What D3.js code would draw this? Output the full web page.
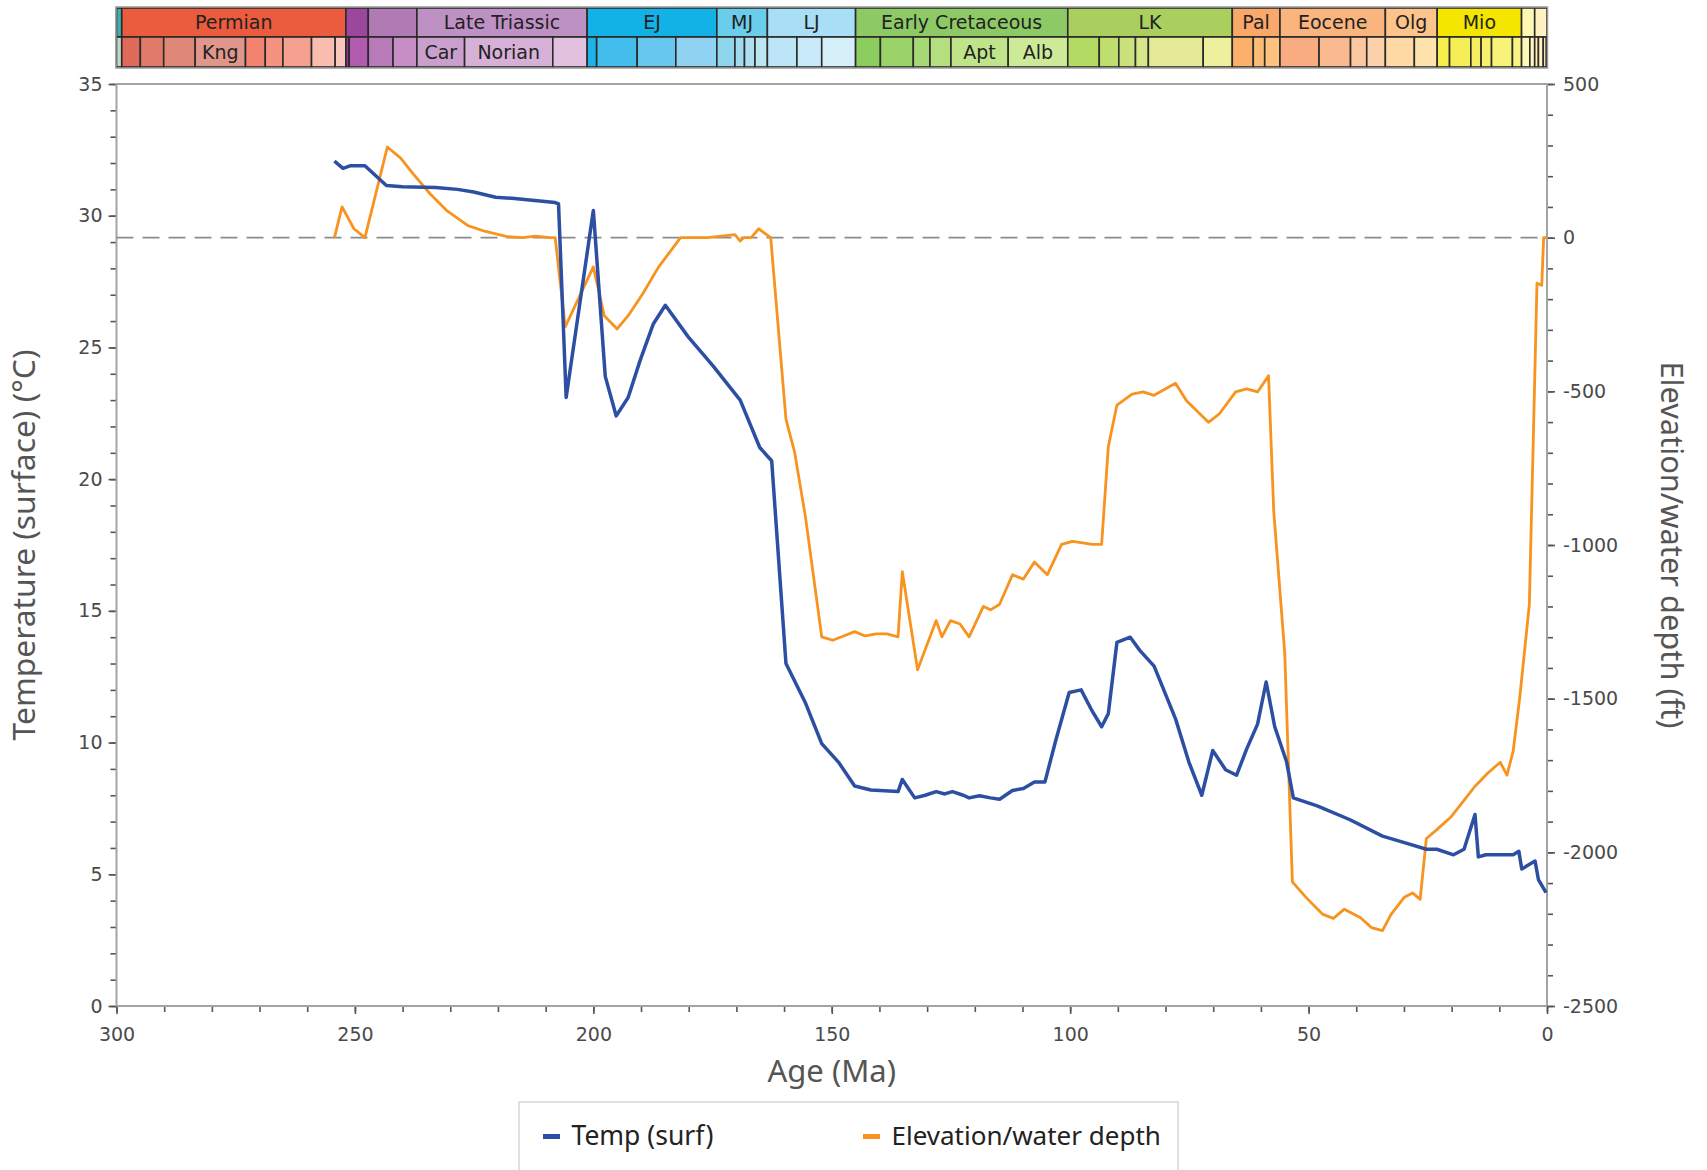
<!DOCTYPE html>
<html>
<head>
<meta charset="utf-8">
<script src="https://cdn.jsdelivr.net/npm/d3@7"></script>
<style>
  html, body { margin: 0; padding: 0; background: #fff; }
  svg { display: block; }
</style>
</head>
<body>
<svg id="chart" width="1707" height="1170"></svg>
<script>
// Surface temperature history (age in Ma, temperature in °C)
const tempAge = [254.3, 252.5, 250.9, 247.9, 243.4, 240, 233.1, 228.5, 225.1, 220.5, 217.1, 208, 207.3,
  205.7, 200, 197.5, 195.2, 192.7, 190.2, 187.4, 184.9, 180.1, 174.9, 169.2, 165.1, 162.6, 159.6,
  155.5, 152.1, 148.6, 145.2, 141.8, 136.1, 135.2, 132.6, 130.4, 128.1, 126.3, 124.7, 122.4, 121.2,
  119, 116.7, 114.8, 112.1, 109.8, 107.5, 105.3, 103, 100.2, 97.7, 95.4, 93.4, 92, 90.2, 87.4, 85.4,
  82.4, 77.9, 75.1, 72.4, 70.1, 67.4, 65.1, 63, 60.7, 58.9, 57.1, 54.6, 53.2, 48.2, 41.3, 34.5, 29.9,
  25.3, 23.1, 19.6, 17.4, 15.1, 14.4, 12.8, 9.4, 7.1, 5.9, 5.3, 4.1, 2.5, 1.8, 0.2];
const tempVal = [32.07, 31.8, 31.9, 31.9, 31.15, 31.1, 31.07, 31.0, 30.9, 30.7, 30.66, 30.5, 30.45,
  23.1, 30.2, 23.9, 22.4, 23.1, 24.5, 25.9, 26.6, 25.4, 24.3, 23.0, 21.2, 20.7, 13.0,
  11.5, 9.96, 9.26, 8.35, 8.2, 8.14, 8.6, 7.9, 8.0, 8.14, 8.05, 8.14, 8.0, 7.9,
  7.98, 7.9, 7.85, 8.18, 8.26, 8.5, 8.5, 10.1, 11.9, 12.0, 11.2, 10.6, 11.1, 13.8, 14.0, 13.5,
  12.9, 10.9, 9.26, 8.0, 9.7, 8.97, 8.76, 9.75, 10.7, 12.3, 10.6, 9.26, 7.9, 7.6, 7.07, 6.45, 6.2,
  5.95, 5.95, 5.74, 5.95, 7.27, 5.66, 5.74, 5.74, 5.74, 5.87, 5.2, 5.33, 5.5, 4.8, 4.3];

// Elevation / water depth history (age in Ma, feet; negative = below sea level)
const elevAge = [254.3, 252.7, 250.2, 247.9, 243.2, 240.4, 237.7, 234.2, 230.8, 226.3, 222.8, 218.3,
  214.8, 212.1, 209.1, 208, 205.9, 200, 197.7, 195, 192.7, 189.7, 186.3, 181.7, 176, 170.3, 169.2,
  168.5, 166.9, 165.3, 162.8, 159.6, 157.8, 155.5, 152.1, 149.8, 147.5, 145.2, 143, 140.7, 138.4,
  136.1, 135.2, 132, 128.1, 126.9, 125.1, 123.1, 121.2, 118.2, 116.7, 114.8, 112.1, 109.8, 107.5,
  104.8, 101.8, 99.5, 97.7, 95.4, 93.4, 92, 90.2, 87, 84.7, 82.4, 77.9, 75.6, 71, 68.7, 65.3, 63,
  60.7, 58.4, 57.3, 55, 53.4, 50.4, 47, 44.8, 42.5, 39.1, 36.8, 34.5, 32.7, 29.9, 28.2, 26.6, 25.3,
  23.1, 20.1, 17.4, 15.1, 12.4, 9.8, 8.4, 7.1, 5.7, 3.7, 2.1, 1.1, 0.7, 0];
const elevVal = [0, 100, 29, 0, 295, 259, 206, 142, 89, 39, 21, 4,
  0, 5, 0, 0, -290, -95, -254, -297, -254, -184, -95, 0, 0, 10, -11,
  0, 0, 29, 0, -591, -697, -910, -1299, -1310, -1296, -1282, -1296, -1289, -1289,
  -1299, -1087, -1406, -1246, -1299, -1246, -1257, -1299, -1200, -1211, -1193, -1097, -1111, -1055,
  -1097, -998, -988, -992, -998, -998, -680, -545, -509, -502, -513, -474, -531, -601, -573, -502, -492,
  -502, -449, -892, -1352, -2096, -2149, -2202, -2215, -2185, -2213, -2245, -2255, -2202, -2146, -2132, -2153, -1955,
  -1926, -1884, -1831, -1785, -1742, -1707, -1749, -1671, -1494, -1193, -148, -155, 0, 0];

// Axis ticks
const ageTicks = [300, 250, 200, 150, 100, 50, 0];
const ageMinorTicks = d3.range(0, 301, 10);
const tempTicks = [0, 5, 10, 15, 20, 25, 30, 35];
const tempMinorTicks = d3.range(0, 36, 1);
const elevTicks = [500, 0, -500, -1000, -1500, -2000, -2500];
const elevMinorTicks = d3.range(-2500, 501, 100);

// Geologic time scale, upper row (periods / epochs), boundaries in Ma
const epochBounds = [300, 298.9, 251.902, 247.2, 237, 201.3, 174.1, 163.5, 145, 100.5, 66, 56, 33.9, 23.03, 5.333, 2.58, 0];
const epochLabels = ["", "Permian", "", "", "Late Triassic", "EJ", "MJ", "LJ", "Early Cretaceous", "LK",
  "Pal", "Eocene", "Olg", "Mio", "", ""];
const epochColors = ["#3DB0B0", "#EB5B3D", "#9B479D", "#B07AB4", "#BE91C5", "#12B1E6", "#6BCDEC", "#A9DFF6",
  "#8DCA66", "#AACF5E", "#F9A869", "#FAB57F", "#FCC38A", "#F5E600", "#FFF8B5", "#FFF1C2"];

// Lower row (stages / ages), boundaries in Ma
const stageBounds = [300, 298.9,
  295, 290.1, 283.5, 272.95, 268.8, 265.1, 259.1, 254.14, 251.902,
  251.2, 247.2, 242, 237, 227, 208.5, 201.3,
  199.3, 190.8, 182.7, 174.1, 170.3, 168.3, 166.1, 163.5, 157.3, 152.1, 145,
  139.8, 132.9, 129.4, 125, 113, 100.5, 93.9, 89.8, 86.3, 83.6, 72.1, 66,
  61.6, 59.2, 56, 47.8, 41.2, 37.8, 33.9, 27.82, 23.03,
  20.44, 15.97, 13.82, 11.63, 7.246, 5.333, 3.6, 2.58,
  1.8, 0.781, 0.126, 0.0117, 0];
const stageLabels = ["",
  "", "", "", "Kng", "", "", "", "", "",
  "", "", "", "", "Car", "Norian", "",
  "", "", "", "", "", "", "", "", "", "", "",
  "", "", "", "", "Apt", "Alb", "", "", "", "", "", "",
  "", "", "", "", "", "", "", "", "",
  "", "", "", "", "", "", "", "",
  "", "", "", "", ""];
const stageColors = ["#BFD9CC",
  "#E06A5A", "#E07A69", "#E08878", "#E0968A", "#F4846F", "#F59280", "#F6A08F", "#F9BCAE", "#FAC8BC",
  "#8A3A86", "#B15AAE", "#B97AB9", "#C78EC6", "#C9A0CD", "#D6B0D6", "#E2C1DF",
  "#1FB2E8", "#42BDEC", "#68C7EF", "#8FD2F1", "#8ED6EC", "#A0DCEF", "#AEE0F0", "#BCE5F2", "#BDE5F8", "#C9EAF8", "#D6F0FA",
  "#8CCD60", "#99D36A", "#A6D975", "#B3DF7F", "#BFE48A", "#CCEA97", "#B3DA62", "#BFDE6E", "#CBE27C", "#D6E688", "#E4EA96", "#EEF09E",
  "#FBB16C", "#FCBC74", "#FCC27E", "#F9AC80", "#FAB98F", "#FCC69E", "#FDD1AC", "#FED9A4", "#FEE3AE",
  "#F6EC4A", "#F6EE56", "#F7EF62", "#F7F06C", "#F8F278", "#F9F384", "#FDF8B8", "#FDF9C4",
  "#FFEDB3", "#FFF2BA", "#FFF2C7", "#FFF2D3", "#FEEBD2"];

// ---------------------------------------------------------------------------
const svg = d3.select("#chart");
const plot = { left: 116.5, right: 1547, top: 84, bottom: 1006 };

const x = d3.scaleLinear().domain([300, 0]).range([plot.left, plot.right]);
const yT = d3.scaleLinear().domain([0, 35]).range([plot.bottom, plot.top]);
const yE = d3.scaleLinear().domain([-2500, 500]).range([plot.bottom, plot.top]);

const axisGrey = "#A3A3A3";
const tickGrey = "#555";
const labelColor = "#4a4a4a";
const tickFont = "'DejaVu Sans', Verdana, sans-serif";
const titleFont = "'Noto Sans', 'Open Sans', sans-serif";
const plainNumber = d => String(d);

// --- time scale bar ---
const barTop = 8, barMid = 37, barBottom = 67;
const scaleG = svg.append("g").attr("class", "timescale");

function drawRow(bounds, labels, colors, y0, y1) {
  const cells = d3.range(bounds.length - 1).map(i => ({
    a: bounds[i], b: bounds[i + 1], label: labels[i], color: colors[i]
  }));
  const g = scaleG.append("g");
  g.selectAll("rect").data(cells).join("rect")
    .attr("x", d => x(d.a))
    .attr("y", y0)
    .attr("width", d => Math.max(0, x(d.b) - x(d.a)))
    .attr("height", y1 - y0)
    .attr("fill", d => d.color)
    .attr("stroke", "#2a2a2a")
    .attr("stroke-width", 1.6);
  g.selectAll("text").data(cells.filter(d => d.label)).join("text")
    .attr("x", d => (x(d.a) + x(d.b)) / 2)
    .attr("y", (y0 + y1) / 2 + 6.5)
    .attr("text-anchor", "middle")
    .attr("font-family", tickFont)
    .attr("font-size", 19)
    .attr("fill", "#222")
    .text(d => d.label);
}
drawRow(epochBounds, epochLabels, epochColors, barTop, barMid);
drawRow(stageBounds, stageLabels, stageColors, barMid, barBottom);
scaleG.append("rect")
  .attr("x", x(300) - 0.5).attr("y", barTop - 1)
  .attr("width", x(0) - x(300) + 1).attr("height", barBottom - barTop + 2)
  .attr("fill", "none").attr("stroke", "#9a9a9a").attr("stroke-width", 1.5);

// --- axes ---
function styleAxis(g) {
  g.select(".domain").remove();
  g.selectAll(".tick line").attr("stroke", tickGrey).attr("stroke-width", 1.6);
  g.selectAll(".tick text")
    .attr("font-family", tickFont)
    .attr("font-size", 19)
    .attr("fill", labelColor);
}

// minor ticks
svg.append("g").attr("transform", `translate(0,${plot.bottom})`)
  .call(d3.axisBottom(x).tickValues(ageMinorTicks).tickSize(6).tickFormat(""))
  .call(styleAxis);
svg.append("g").attr("transform", `translate(${plot.left},0)`)
  .call(d3.axisLeft(yT).tickValues(tempMinorTicks).tickSize(6).tickFormat(""))
  .call(styleAxis);
svg.append("g").attr("transform", `translate(${plot.right},0)`)
  .call(d3.axisRight(yE).tickValues(elevMinorTicks).tickSize(6).tickFormat(""))
  .call(styleAxis);

// major ticks with labels
svg.append("g").attr("transform", `translate(0,${plot.bottom})`)
  .call(d3.axisBottom(x).tickValues(ageTicks).tickSize(8).tickPadding(14).tickFormat(plainNumber))
  .call(styleAxis);
svg.append("g").attr("transform", `translate(${plot.left},0)`)
  .call(d3.axisLeft(yT).tickValues(tempTicks).tickSize(8).tickPadding(6).tickFormat(plainNumber))
  .call(styleAxis);
svg.append("g").attr("transform", `translate(${plot.right},0)`)
  .call(d3.axisRight(yE).tickValues(elevTicks).tickSize(8).tickPadding(8).tickFormat(plainNumber))
  .call(styleAxis);

// frame
const frame = svg.append("g").attr("stroke", axisGrey).attr("stroke-width", 2).attr("fill", "none");
frame.append("line").attr("x1", plot.left).attr("x2", plot.right).attr("y1", plot.top).attr("y2", plot.top);
frame.append("line").attr("x1", plot.left).attr("x2", plot.right).attr("y1", plot.bottom).attr("y2", plot.bottom);
frame.append("line").attr("x1", plot.left).attr("x2", plot.left).attr("y1", plot.top).attr("y2", plot.bottom);
frame.append("line").attr("x1", plot.right).attr("x2", plot.right).attr("y1", plot.top).attr("y2", plot.bottom);

// sea level reference
svg.append("line")
  .attr("x1", plot.left).attr("x2", plot.right)
  .attr("y1", yE(0)).attr("y2", yE(0))
  .attr("stroke", "#8c8c8c").attr("stroke-width", 1.6)
  .attr("stroke-dasharray", "17,9");

// --- series ---
const elevLine = d3.line().x((d, i) => x(elevAge[i])).y(d => yE(d));
const tempLine = d3.line().x((d, i) => x(tempAge[i])).y(d => yT(d));

svg.append("path").datum(elevVal)
  .attr("d", elevLine)
  .attr("fill", "none").attr("stroke", "#F7931E").attr("stroke-width", 2.8)
  .attr("stroke-linejoin", "round");
svg.append("path").datum(tempVal)
  .attr("d", tempLine)
  .attr("fill", "none").attr("stroke", "#2C4FA3").attr("stroke-width", 3.5)
  .attr("stroke-linejoin", "round");

// --- axis titles ---
svg.append("text")
  .attr("transform", `translate(35,${(plot.top + plot.bottom) / 2}) rotate(-90)`)
  .attr("text-anchor", "middle")
  .attr("font-family", titleFont).attr("font-size", 31.8).attr("fill", "#555")
  .text("Temperature (surface) (°C)");
svg.append("text")
  .attr("transform", `translate(1661,${(plot.top + plot.bottom) / 2}) rotate(90)`)
  .attr("text-anchor", "middle")
  .attr("font-family", titleFont).attr("font-size", 30.8).attr("fill", "#555")
  .text("Elevation/water depth (ft)");
svg.append("text")
  .attr("x", (plot.left + plot.right) / 2).attr("y", 1082)
  .attr("text-anchor", "middle")
  .attr("font-family", titleFont).attr("font-size", 31).attr("fill", "#555")
  .text("Age (Ma)");

// --- legend ---
const legend = svg.append("g");
legend.append("rect")
  .attr("x", 519).attr("y", 1102).attr("width", 659).attr("height", 90)
  .attr("fill", "#fff").attr("stroke", "#d6d6d6").attr("stroke-width", 1.5);
const legendItems = [
  { name: "Temp (surf)", color: "#2C4FA3", x: 543, size: 26.5 },
  { name: "Elevation/water depth", color: "#F7931E", x: 863, size: 26 }
];
legendItems.forEach(item => {
  legend.append("rect")
    .attr("x", item.x).attr("y", 1134).attr("width", 17).attr("height", 5)
    .attr("fill", item.color);
  legend.append("text")
    .attr("x", item.x + 28.5).attr("y", 1145)
    .attr("font-family", titleFont).attr("font-size", item.size).attr("fill", "#222")
    .text(item.name);
});
</script>
</body>
</html>
